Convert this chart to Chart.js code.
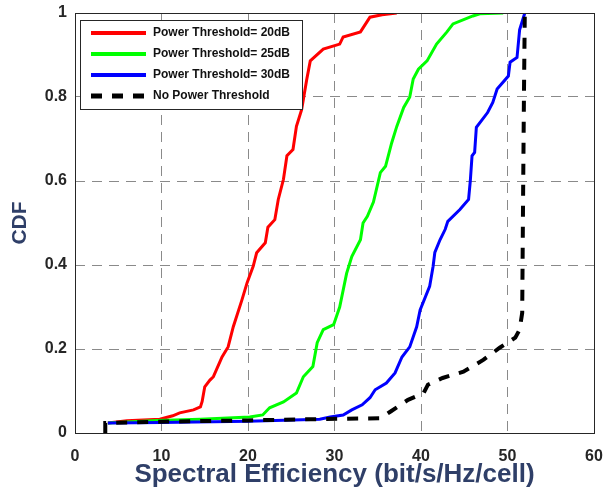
<!DOCTYPE html>
<html>
<head>
<meta charset="utf-8">
<script src="https://cdn.jsdelivr.net/npm/chart.js@4/dist/chart.umd.min.js"></script>
<style>
  html, body { margin: 0; padding: 0; background: #fff; }
  canvas { display: block; }
</style>
</head>
<body>
<canvas id="cdfChart" width="605" height="492"></canvas>
<script>
// CDF curves (x = spectral efficiency, y = CDF)
const seriesLabels = ["Power Threshold= 20dB", "Power Threshold= 25dB", "Power Threshold= 30dB", "No Power Threshold"];
const xTicks = [0, 10, 20, 30, 40, 50, 60];
const yTicks = [0, 0.2, 0.4, 0.6, 0.8, 1];

const th20X = [3.8, 6.0, 9.8, 11.3, 12.1, 13.7, 14.5, 14.7, 15.0, 15.6, 16.0, 17.0, 17.7, 18.3, 19.3, 19.9, 20.6, 21.0, 22.0, 22.3, 23.1, 23.5, 24.1, 24.5, 25.2, 25.6, 26.2, 26.8, 27.2, 28.7, 30.6, 31.0, 33.0, 34.1, 35.5, 37.2];
const th20Y = [0.024, 0.029, 0.033, 0.041, 0.048, 0.055, 0.062, 0.075, 0.11, 0.126, 0.134, 0.181, 0.205, 0.253, 0.317, 0.358, 0.397, 0.429, 0.453, 0.49, 0.508, 0.556, 0.604, 0.66, 0.675, 0.73, 0.77, 0.843, 0.886, 0.914, 0.926, 0.943, 0.955, 0.99, 0.996, 1.0];

const th25X = [3.8, 9.5, 14.5, 20.2, 21.7, 22.5, 24.1, 25.6, 26.4, 27.5, 28.0, 28.7, 29.9, 30.6, 31.4, 32.0, 33.0, 33.3, 33.8, 34.5, 35.3, 35.9, 36.6, 37.2, 38.0, 38.7, 39.1, 39.7, 40.7, 41.8, 43.0, 43.7, 46.0, 46.8, 49.5];
const th25Y = [0.024, 0.03, 0.033, 0.038, 0.043, 0.06, 0.074, 0.095, 0.134, 0.158, 0.215, 0.246, 0.258, 0.30, 0.38, 0.42, 0.46, 0.50, 0.516, 0.55, 0.62, 0.635, 0.69, 0.73, 0.775, 0.80, 0.843, 0.866, 0.886, 0.926, 0.955, 0.974, 0.993, 0.998, 1.0];

const th30X = [3.8, 10.0, 20.0, 28.3, 29.5, 31.0, 32.0, 33.2, 34.1, 34.7, 36.0, 37.0, 37.8, 38.7, 39.5, 39.9, 41.0, 41.4, 41.6, 42.2, 42.8, 43.1, 44.5, 45.5, 45.7, 45.9, 46.2, 46.4, 47.7, 48.3, 48.8, 50.1, 50.3, 51.1, 51.4, 52.0];
const th30Y = [0.024, 0.025, 0.028, 0.033, 0.038, 0.043, 0.055, 0.067, 0.084, 0.103, 0.119, 0.143, 0.181, 0.205, 0.253, 0.293, 0.349, 0.397, 0.43, 0.46, 0.485, 0.504, 0.532, 0.556, 0.6, 0.66, 0.668, 0.728, 0.763, 0.787, 0.819, 0.85, 0.883, 0.894, 0.96, 1.0];

const noThX = [3.5, 3.5, 10.0, 20.0, 28.0, 35.3, 36.4, 38.5, 40.3, 40.8, 42.5, 44.9, 47.2, 49.1, 50.9, 51.4, 51.7, 51.8, 51.9, 52.0];
const noThY = [0, 0.024, 0.027, 0.03, 0.033, 0.035, 0.05, 0.079, 0.095, 0.115, 0.131, 0.146, 0.174, 0.203, 0.227, 0.246, 0.286, 0.556, 0.8, 1.0];

function toPoints(xs, ys) {
    return xs.map((x, i) => ({ x: x, y: ys[i] }));
}

// box round the plot area, like a matlab axes
const frameBox = {
    id: 'frameBox',
    afterDatasetsDraw(chart) {
        const a = chart.chartArea;
        const ctx = chart.ctx;
        ctx.save();
        ctx.strokeStyle = '#262626';
        ctx.lineWidth = 1;
        ctx.setLineDash([]);
        ctx.strokeRect(Math.round(a.left) + 0.5, Math.round(a.top) + 0.5, Math.round(a.right - a.left), Math.round(a.bottom - a.top));
        ctx.restore();
    }
};

// legend drawn inside the axes, top left
const insideLegend = {
    id: 'insideLegend',
    afterDraw(chart) {
        const a = chart.chartArea;
        const ctx = chart.ctx;
        const x0 = a.left + 5, y0 = a.top + 7, w = 222, rowH = 21;
        const h = rowH * chart.data.datasets.length + 5;
        ctx.save();
        ctx.fillStyle = '#fff';
        ctx.fillRect(x0, y0, w, h);
        ctx.strokeStyle = '#262626';
        ctx.lineWidth = 1;
        ctx.strokeRect(x0 + 0.5, y0 + 0.5, w, h);
        ctx.font = 'bold 12px "Liberation Sans", Arial, sans-serif';
        ctx.textBaseline = 'middle';
        chart.data.datasets.forEach((ds, i) => {
            const y = y0 + 13 + i * rowH;
            ctx.strokeStyle = ds.borderColor;
            ctx.lineWidth = ds.borderWidth + 1;
            ctx.setLineDash(ds.borderDash || []);
            ctx.beginPath();
            ctx.moveTo(x0 + 11, y);
            ctx.lineTo(x0 + 66, y);
            ctx.stroke();
            ctx.fillStyle = '#111';
            ctx.fillText(ds.label, x0 + 73, y);
        });
        ctx.restore();
    }
};

const ctx = document.getElementById('cdfChart').getContext('2d');
new Chart(ctx, {
    type: 'line',
    data: {
        datasets: [
            { label: seriesLabels[0], data: toPoints(th20X, th20Y), borderColor: '#ff0000', borderWidth: 3, order: 4 },
            { label: seriesLabels[1], data: toPoints(th25X, th25Y), borderColor: '#00ff00', borderWidth: 3, order: 3 },
            { label: seriesLabels[2], data: toPoints(th30X, th30Y), borderColor: '#0000ff', borderWidth: 3, order: 2 },
            { label: seriesLabels[3], data: toPoints(noThX, noThY), borderColor: '#000000', borderWidth: 4, borderDash: [11, 10], order: 1 }
        ]
    },
    options: {
        responsive: false,
        animation: false,
        devicePixelRatio: 1,
        elements: { point: { radius: 0 }, line: { tension: 0, fill: false, borderCapStyle: 'butt' } },
        layout: { padding: { top: 13, right: 11, left: 0, bottom: 0 } },
        plugins: { legend: { display: false }, tooltip: { enabled: false } },
        scales: {
            x: {
                type: 'linear',
                min: xTicks[0],
                max: xTicks[xTicks.length - 1],
                afterBuildTicks: s => { s.ticks = xTicks.map(v => ({ value: v })); },
                afterFit: s => { s.height = 59; s.paddingLeft = 0; s.paddingRight = 0; },
                ticks: { color: '#262626', font: { family: '"Liberation Sans", Arial', size: 16, weight: 'bold' }, padding: 14, maxRotation: 0 },
                grid: { color: '#8a8a8a', lineWidth: 1, drawTicks: false },
                border: { display: false, dash: [10, 7] },
                title: { display: true, text: 'Spectral Efficiency (bit/s/Hz/cell)', color: '#2f3f68', font: { family: '"Liberation Sans", Arial', size: 26, weight: 'bold' }, padding: { top: 0, bottom: 2 } }
            },
            y: {
                min: yTicks[0],
                max: yTicks[yTicks.length - 1],
                afterBuildTicks: s => { s.ticks = yTicks.map(v => ({ value: v })); },
                afterFit: s => { s.width = 75; s.paddingTop = 0; s.paddingBottom = 0; },
                ticks: { color: '#262626', font: { family: '"Liberation Sans", Arial', size: 16, weight: 'bold' }, padding: 8, callback: v => String(v) },
                grid: { color: '#8a8a8a', lineWidth: 1, drawTicks: false },
                border: { display: false, dash: [10, 7] },
                title: { display: true, text: 'CDF', color: '#2f3f68', font: { family: '"Liberation Sans", Arial', size: 21, weight: 'bold' }, padding: { top: 8, bottom: 8 } }
            }
        }
    },
    plugins: [frameBox, insideLegend]
});
</script>
</body>
</html>
